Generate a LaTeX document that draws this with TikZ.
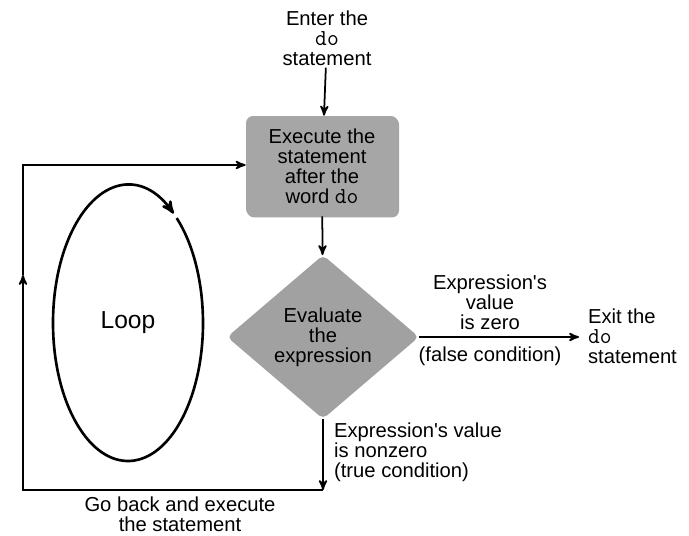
\documentclass[tikz,border=0pt]{standalone}
\usepackage{fontspec}
\setmainfont{Liberation Sans}
\usetikzlibrary{arrows}
\usetikzlibrary{shapes.geometric}
\usetikzlibrary{shadows}

\newcommand{\kw}[1]{{\ttfamily\fontsize{13}{11.4}\selectfont #1}}

\begin{document}
\begin{tikzpicture}
    \tikzset{>=stealth'}
    \tikzset{
        label text/.style={align=center, font=\fontsize{11.5}{11.4}\selectfont, inner sep=1pt},
        flow/.style={line width=1pt},
        stepbox/.style={label text, rectangle, rounded corners=4pt, fill=black!35,
            minimum width=3.04cm, minimum height=2cm,
            drop shadow={shadow xshift=0.6pt, shadow yshift=-0.8pt, fill=black!70}},
        testbox/.style={label text, diamond, fill=black!37, inner sep=0pt,
            rounded corners=3pt, shape aspect=1.17,
            minimum width=3.84cm, minimum height=3.28cm}
    }

    \useasboundingbox (0, 0) rectangle (13.78, 10.7);

    % Nodes of the flow
    \node[label text] (enter) at (6.54, 9.94) {Enter the\\\kw{do}\\statement};
    \node[stepbox] (execute) at (6.44, 7.38)
        {Execute the\\statement\\after the\\word \kw{do}};
    \node[testbox] (evaluate) at (6.46, 3.96) {Evaluate\\the\\expression};
    \node[label text, anchor=west, align=left] (exit) at (11.72, 3.98)
        {Exit the\\\kw{do}\\statement};

    % Labels on the branches
    \node[label text] (zero) at (9.8, 4.66)
        {Expression\textquotesingle s\\value\\is zero};
    \node[label text] (false) at (9.8, 3.58) {(false condition)};
    \node[label text, anchor=west, align=left] (true) at (6.64, 1.66)
        {Expression\textquotesingle s value\\is nonzero\\(true condition)};
    \node[label text] (back) at (3.6, 0.42) {Go back and execute\\the statement};

    % Corners of the way back
    \coordinate (bottom) at (6.46, 0.9);
    \coordinate (corner1) at (0.46, 0.9);
    \coordinate (middle) at (0.46, 5.2);
    \coordinate (corner2) at (0.46, 7.4);

    % Draw the connectors
    \draw[flow, ->] (enter) -- (execute);
    \draw[flow, ->] (execute) -- (evaluate);
    \draw[flow, ->] (evaluate.east) -- (11.58, 3.96);
    \draw[flow, ->] (evaluate.south) -- (bottom);
    \draw[flow, ->] (bottom) -- (corner1) -- (middle);
    \draw[flow, ->] (middle) -- (corner2) -- (corner2 -| execute.west);

    % Draw the loop
    \coordinate (loop centre) at (2.56, 4.24);
    \node[label text, font=\fontsize{14}{14}\selectfont] (loop) at (loop centre) {Loop};
    \draw[line width=1.5pt, ->]
        ([shift={(49.5:1.5 and 2.76)}]loop centre)
        arc[start angle=49.5, end angle=-307.5, x radius=1.5, y radius=2.76];
\end{tikzpicture}
\end{document}
